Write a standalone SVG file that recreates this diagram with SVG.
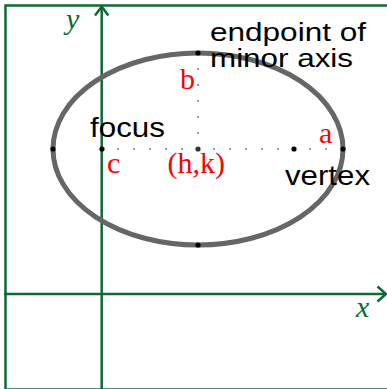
<svg xmlns="http://www.w3.org/2000/svg" width="387" height="389" viewBox="0 0 387 389">
<style>
.grn{stroke:#0b6b36;fill:none}
.dot{fill:#000}
.lbl{font-family:"Liberation Sans",Arial,sans-serif;font-size:28px;fill:#000}
.lbl2{font-family:"Liberation Sans",Arial,sans-serif;font-size:26.5px;fill:#000}
.red{font-family:"Liberation Serif","Times New Roman",serif;font-size:30px;fill:#ff0000}
.ax{font-family:"Liberation Serif","Times New Roman",serif;font-style:italic;font-size:30px;fill:#0b6b36}
.dotted{stroke:#999;stroke-width:2;stroke-dasharray:2 14;fill:none}
</style>
<rect width="387" height="389" fill="#fff"/>
<g id="frame">
<rect class="grn" x="5.5" y="5.5" width="400" height="384" stroke-width="2.5"/>
</g>
<g id="connectors">
<line class="grn" x1="101.7" y1="392" x2="101.7" y2="7" stroke-width="2.5"/>
<polyline class="grn" points="95,15.5 101.7,6.5 108.4,15.5" stroke-width="2.5"/>
<line class="grn" x1="4" y1="294" x2="385" y2="294" stroke-width="2.5"/>
<polyline class="grn" points="377.5,286.5 386,294 377.5,301.5" stroke-width="2.5"/>
<line class="dotted" x1="101" y1="149" x2="344" y2="149"/>
<line class="dotted" x1="198" y1="52" x2="198" y2="150"/>
</g>
<g id="ellipse">
<ellipse cx="198" cy="149" rx="145" ry="96" fill="none" stroke="#666" stroke-width="5"/>
</g>
<g id="points">
<circle class="dot" cx="53" cy="149" r="2.6"/>
<circle class="dot" cx="102" cy="149" r="2.6"/>
<circle cx="198" cy="149" r="2.6" fill="#333"/>
<circle class="dot" cx="294" cy="149" r="2.6"/>
<circle class="dot" cx="343" cy="149" r="2.6"/>
<circle class="dot" cx="198" cy="53" r="2.6"/>
<circle class="dot" cx="198" cy="245" r="2.6"/>
</g>
<g id="labels">
<text class="lbl2" x="210" y="40.5" textLength="156" lengthAdjust="spacingAndGlyphs">endpoint of</text>
<text class="lbl2" x="210" y="66.5" textLength="143" lengthAdjust="spacingAndGlyphs">minor axis</text>
<text class="lbl" x="90" y="137" textLength="75" lengthAdjust="spacingAndGlyphs">focus</text>
<text class="lbl" x="285" y="185" textLength="85" lengthAdjust="spacingAndGlyphs">vertex</text>
<text class="red" x="180" y="89">b</text>
<text class="red" x="107" y="173">c</text>
<text class="red" x="167.5" y="173">(h,k)</text>
<text class="red" x="319" y="143">a</text>
<text class="ax" x="66" y="28.5">y</text>
<text class="ax" x="356" y="317">x</text>
</g>
</svg>
